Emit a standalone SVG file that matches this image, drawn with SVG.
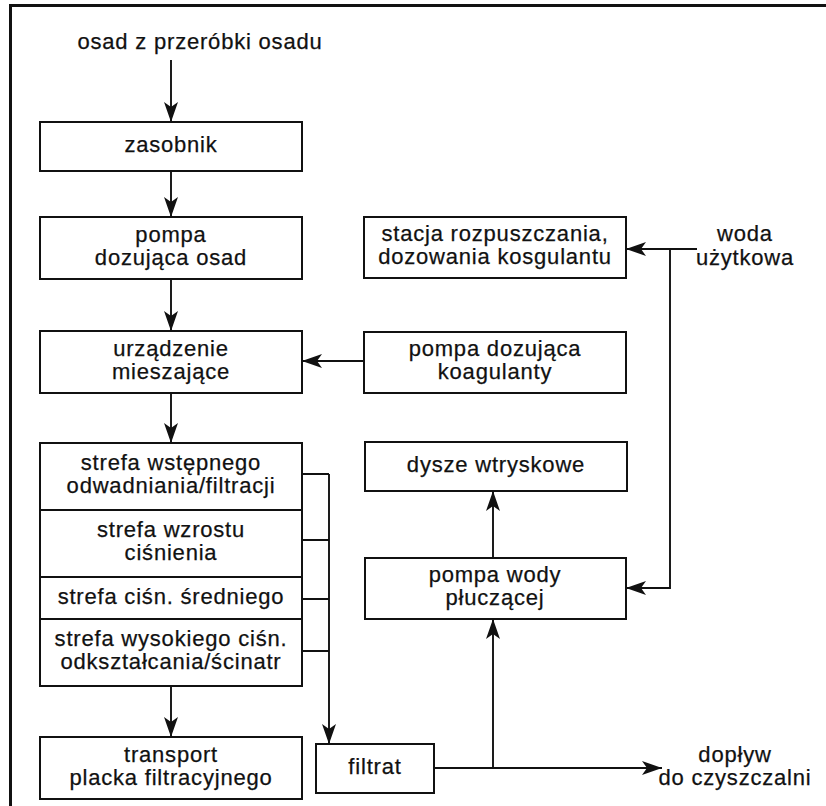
<svg xmlns="http://www.w3.org/2000/svg" width="826" height="806" viewBox="0 0 826 806">
<defs>
<style>
.box{fill:#fff;stroke:#111;stroke-width:2}
.ln{fill:none;stroke:#111;stroke-width:1.9}
.t{font-family:"Liberation Sans",Arial,sans-serif;font-size:22px;letter-spacing:0.8px;fill:#111;stroke:#111;stroke-width:0.25;text-anchor:middle}
</style>
<marker id="ah" markerUnits="userSpaceOnUse" markerWidth="24" markerHeight="18" viewBox="-22 -9 24 18" refX="0" refY="0" orient="auto">
<path d="M0,0 L-20,-7 L-15,0 L-20,7 Z" fill="#111"/>
</marker>
</defs>
<rect x="0" y="0" width="826" height="806" fill="#fff"/>
<path d="M10.5,810 V5.5 H830" fill="none" stroke="#111" stroke-width="3"/>

<text class="t" x="200" y="49">osad z przeróbki osadu</text>

<g id="zasobnik"><rect class="box" x="40" y="122" width="262" height="49"/><text class="t" x="171" y="152">zasobnik</text></g>
<g id="pompa-osad"><rect class="box" x="40" y="217" width="262" height="62"/><text class="t" x="171" y="241.5">pompa</text><text class="t" x="171" y="264.5">dozująca osad</text></g>
<g id="urzadzenie"><rect class="box" x="40" y="331" width="262" height="62"/><text class="t" x="171" y="355.5">urządzenie</text><text class="t" x="171" y="378.5">mieszające</text></g>
<g id="strefa">
<rect class="box" x="40" y="443" width="262" height="243"/>
<path class="ln" d="M40,510 H302 M40,577 H302 M40,619 H302" stroke-width="2"/>
<text class="t" x="171" y="470">strefa wstępnego</text><text class="t" x="171" y="493">odwadniania/filtracji</text>
<text class="t" x="171" y="537">strefa wzrostu</text><text class="t" x="171" y="560">ciśnienia</text>
<text class="t" x="171" y="603.5">strefa ciśn. średniego</text>
<text class="t" x="171" y="646">strefa wysokiego ciśn.</text><text class="t" x="171" y="669">odkształcania/ścinatr</text>
</g>
<g id="transport"><rect class="box" x="40" y="737" width="262" height="62"/><text class="t" x="171" y="761.5">transport</text><text class="t" x="171" y="784.5">placka filtracyjnego</text></g>
<g id="filtrat"><rect class="box" x="316" y="744" width="118" height="49"/><text class="t" x="375" y="774">filtrat</text></g>
<g id="stacja"><rect class="box" x="364" y="217" width="262" height="61"/><text class="t" x="495" y="241">stacja rozpuszczania,</text><text class="t" x="495" y="264">dozowania kosgulantu</text></g>
<g id="pompa-koag"><rect class="box" x="364" y="332" width="262" height="61"/><text class="t" x="495" y="356">pompa dozująca</text><text class="t" x="495" y="379">koagulanty</text></g>
<g id="dysze"><rect class="box" x="365" y="442" width="262" height="49"/><text class="t" x="496" y="472">dysze wtryskowe</text></g>
<g id="pompa-wody"><rect class="box" x="365" y="558" width="261" height="61"/><text class="t" x="495" y="582">pompa wody</text><text class="t" x="495" y="605">płuczącej</text></g>
<g id="woda"><text class="t" x="745" y="241">woda</text><text class="t" x="745" y="265">użytkowa</text></g>
<g id="doplyw"><text class="t" x="735" y="762">dopływ</text><text class="t" x="735" y="785">do czyszczalni</text></g>

<g id="connectors">
<path class="ln" d="M171,60 V122" marker-end="url(#ah)"/>
<path class="ln" d="M171,171 V217" marker-end="url(#ah)"/>
<path class="ln" d="M171,279 V331" marker-end="url(#ah)"/>
<path class="ln" d="M171,393 V443" marker-end="url(#ah)"/>
<path class="ln" d="M171,686 V737" marker-end="url(#ah)"/>
<path class="ln" d="M364,361 H302" marker-end="url(#ah)"/>
<path class="ln" d="M302,474 H329 M302,540 H329 M302,599 H329 M302,651 H329"/>
<path class="ln" d="M329,474 V744" marker-end="url(#ah)"/>
<path class="ln" d="M434,768 H662" marker-end="url(#ah)"/>
<path class="ln" d="M493,768 V619" marker-end="url(#ah)"/>
<path class="ln" d="M493,558 V491" marker-end="url(#ah)"/>
<path class="ln" d="M697,249 H626" marker-end="url(#ah)"/>
<path class="ln" d="M670,249 V588 H626" marker-end="url(#ah)"/>
</g>
</svg>
